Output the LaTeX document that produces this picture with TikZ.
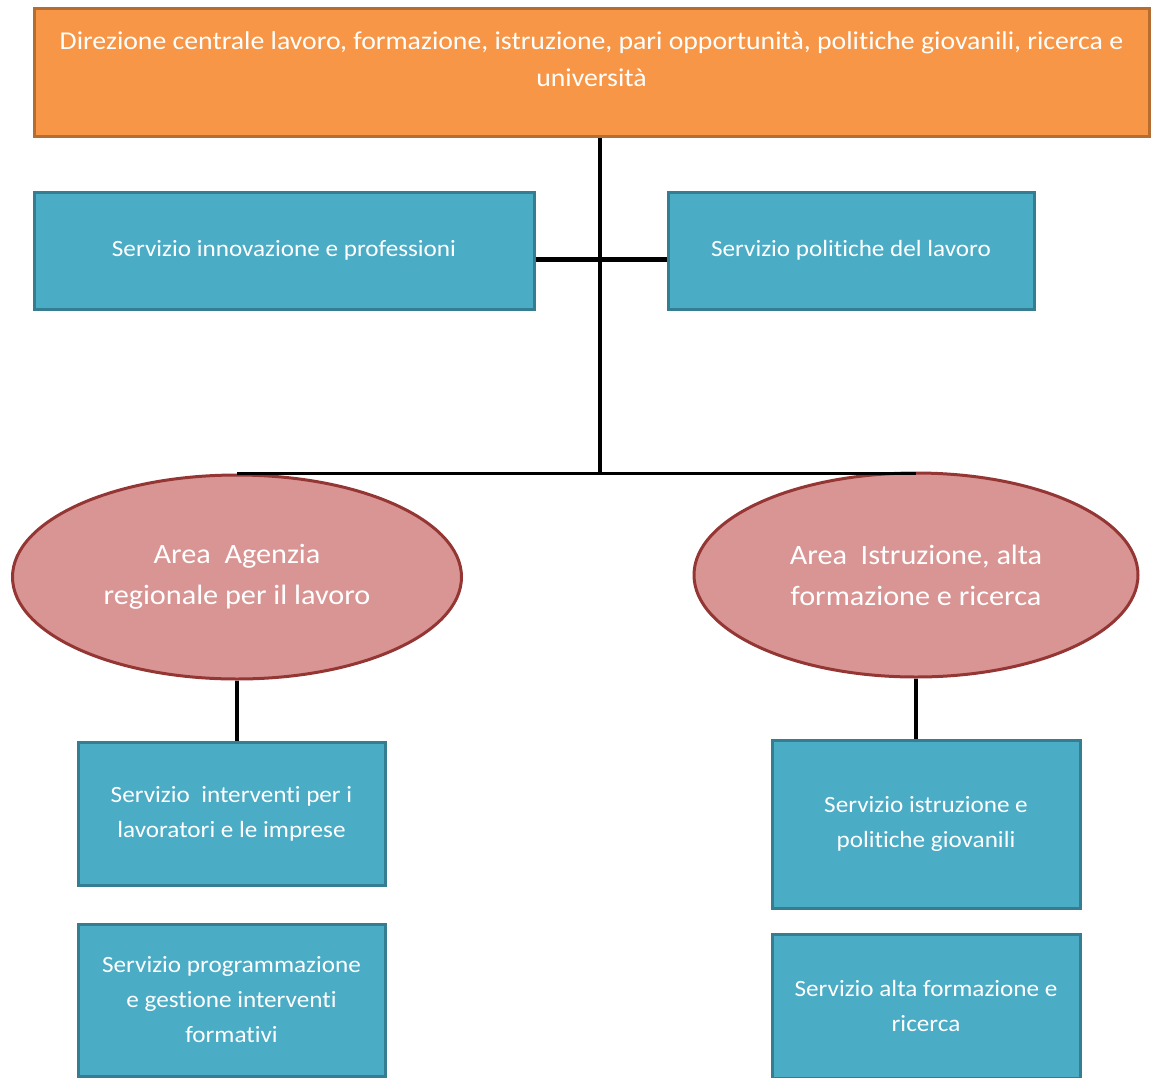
\documentclass[tikz,border=0pt]{standalone}
\usepackage{fontspec}
\setmainfont{Carlito}[FakeStretch=1.08, Ligatures=NoCommon]
\usetikzlibrary{shapes.geometric}
\definecolor{orfill}{HTML}{F79646}
\definecolor{orline}{HTML}{B66D31}
\definecolor{blfill}{HTML}{4BACC6}
\definecolor{blline}{HTML}{357D91}
\definecolor{elfill}{HTML}{D99594}
\definecolor{elline}{HTML}{943634}
\begin{document}
\begin{tikzpicture}[x=1pt,y=-1pt,
  topbox/.style={draw=orline, fill=orfill, line width=3pt, minimum width=1115pt, minimum height=128pt, inner sep=0pt},
  svcbox/.style={draw=blline, fill=blfill, line width=3pt, inner sep=0pt, text=white, align=center,
     font=\fontsize{23.3}{35}\selectfont},
  areaell/.style={ellipse, draw=elline, fill=elfill, line width=3pt, inner sep=0pt, text=white, align=center,
     font=\fontsize{28}{41}\selectfont},
  wtext/.style={text=white, align=center, inner sep=0pt},
  link/.style={line width=3.5pt, black},
  thick link/.style={line width=5pt, black}]
\useasboundingbox (0,0) rectangle (1152,1077);
\clip (0,0) rectangle (1152,1077);
\fill[white] (0,0) rectangle (1152,1077);

% head office
\node[topbox] (top) at (591.5,72) {};
\node[wtext, anchor=north, font=\fontsize{25.7}{37}\selectfont] (toptext) at ([yshift=-25pt]top.north)
  {Direzione centrale lavoro, formazione, istruzione, pari opportunità, politiche giovanili, ricerca e\\università};

% services attached to the head office
\node[svcbox, minimum width=500pt, minimum height=117pt] (servL) at (284,250.5) {Servizio innovazione e professioni};
\node[svcbox, minimum width=366pt, minimum height=117pt] (servR) at (851,250.5) {Servizio politiche del lavoro};

% areas
\node[areaell, minimum width=449pt, minimum height=204pt] (ellL) at (237,577) {Area \ Agenzia\\regionale per il lavoro};
\node[areaell, minimum width=444pt, minimum height=204pt] (ellR) at (916,575) {Area \ Istruzione, alta\\formazione e ricerca};

% services of the areas
\node[svcbox, minimum width=307pt, minimum height=143pt] (lb1) at (231.5,813.5) {Servizio \ interventi per i\\lavoratori e le imprese};
\node[svcbox, minimum width=307pt, minimum height=152pt] (lb2) at (231.5,1000) {Servizio programmazione\\e gestione interventi\\formativi};
\node[svcbox, minimum width=308pt, minimum height=168pt] (rb1) at (926,824) {Servizio istruzione e\\politiche giovanili};
\node[svcbox, minimum width=308pt, minimum height=144pt] (rb2) at (926,1006) {Servizio alta formazione e\\ricerca};

% connectors
\coordinate (hub) at (600,474);
\coordinate (cross) at (600,259);
\draw[link] (top.south -| hub) -- (hub);
\draw[thick link] (servL.east |- cross) -- (servR.west |- cross);
\draw[link] (ellL.north) -- (ellL.north -| ellR.north);
\draw[link] (ellL.south) -- (ellL.south |- lb1.north);
\draw[link] (ellR.south) -- (ellR.south |- rb1.north);
\end{tikzpicture}
\end{document}
